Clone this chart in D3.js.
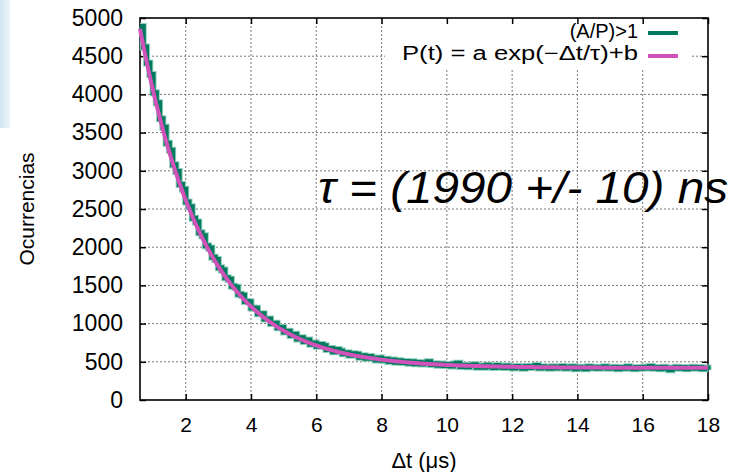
<!DOCTYPE html>
<html>
<head>
<meta charset="utf-8">
<script src="https://cdn.jsdelivr.net/npm/d3@7"></script>
<style>
  body { margin: 0; background: #fff; }
  svg text { font-family: "Liberation Sans", Arimo, Arial, Helvetica, sans-serif; fill: #000; }
  .axis.x text { font-size: 21px; }
  .axis.y text { font-size: 23px; }
  .grid line { stroke: #777; stroke-dasharray: 2,2; stroke-width: 1; }
</style>
</head>
<body>
<div class="graph"></div>
<script>
// data ------------------
// histogram bins start at 0.6 us, 0.1 us wide
const binStart = 0.6
const binWidth = 0.1
const counts = [
    4890, 4620, 4410, 4260, 4020, 3890, 3680, 3570, 3360, 3270,
    3080, 2990, 2820, 2760, 2590, 2530, 2380, 2330, 2190, 2150,
    2020, 1990, 1870, 1840, 1730, 1700, 1600, 1580, 1490, 1475,
    1385, 1370, 1290, 1285, 1205, 1200, 1130, 1130, 1060, 1060,
    1000, 1005, 945, 950, 890, 900, 845, 860, 800, 815,
    765, 785, 730, 745, 705, 725, 710, 660, 675, 630,
    660, 640, 605, 620, 585, 605, 600, 560, 580, 545,
    570, 545, 525, 550, 520, 535, 505, 525, 495, 515,
    490, 505, 480, 500, 475, 490, 470, 485, 500, 465,
    475, 455, 470, 450, 465, 445, 470, 480, 440, 455,
    435, 450, 460, 430, 445, 430, 455, 440, 425, 450,
    435, 425, 445, 430, 420, 440, 430, 415, 440, 425,
    435, 450, 420, 435, 425, 415, 435, 420, 430, 440,
    415, 425, 435, 410, 430, 420, 410, 435, 420, 430,
    415, 425, 435, 415, 420, 430, 410, 425, 415, 435,
    420, 410, 425, 415, 430, 420, 440, 415, 425, 410,
    430, 415, 395, 420, 430, 415, 425, 410, 420, 430,
    415, 425, 410, 420, 395
]

// fit P(t) = a exp(-t/tau) + b
const fitA = 6000
const fitTau = 1.99
const fitB = 420

const xTicks = [2, 4, 6, 8, 10, 12, 14, 16, 18]
const yTicks = [0, 500, 1000, 1500, 2000, 2500, 3000, 3500, 4000, 4500, 5000]
const xDomain = [0.6, 18]
const yDomain = [0, 5000]

const legendLabels = ['(A/P)>1', 'P(t) = a exp(\u2212\u0394t/\u03c4)+b']
const tauLabel = '\u03c4 = (1990 +/- 10) ns'

// config ------------------
const w = 731
const h = 472
const margin = {left: 140, right: 23, top: 18, bottom: 72}
const colours = {data: '#007a5e', halo: '#8fd0bd', fit: '#d152b9'}

const rows = counts.map((c, i) => ({t: binStart + i * binWidth, n: c}))

const xScale = d3.scaleLinear()
    .domain(xDomain)
    .range([margin.left, w - margin.right])

const yScale = d3.scaleLinear()
    .domain(yDomain)
    .range([h - margin.bottom, margin.top])

const svg = d3.select('.graph')
    .append('svg')
    .attr('width', w)
    .attr('height', h)

// slide leftover on the left edge
const grad = svg.append('defs').append('linearGradient')
    .attr('id', 'edge')
grad.append('stop').attr('offset', '0%').attr('stop-color', '#cfe4ef')
grad.append('stop').attr('offset', '100%').attr('stop-color', '#eef6fa')
svg.append('rect')
    .attr('x', 0).attr('y', 0)
    .attr('width', 10).attr('height', 128)
    .attr('fill', 'url(#edge)')

// grid
const grid = svg.append('g').attr('class', 'grid')
grid.selectAll('line.gx')
    .data(xTicks.filter(d => d < xDomain[1]))
    .join('line')
    .attr('class', 'gx')
    .attr('x1', d => xScale(d)).attr('x2', d => xScale(d))
    .attr('y1', yScale(yDomain[0])).attr('y2', yScale(yDomain[1]))
grid.selectAll('line.gy')
    .data(yTicks.filter(d => d > yDomain[0] && d < yDomain[1]))
    .join('line')
    .attr('class', 'gy')
    .attr('x1', xScale(xDomain[0])).attr('x2', xScale(xDomain[1]))
    .attr('y1', d => yScale(d)).attr('y2', d => yScale(d))

// opaque key box hides the grid behind it
svg.append('rect')
    .attr('x', 385).attr('y', margin.top + 1)
    .attr('width', 305).attr('height', 50)
    .attr('fill', '#fff')

// axes, ticks inward on all sides
const xAxis = d3.axisBottom(xScale).tickValues(xTicks).tickFormat(d => d)
    .tickSizeInner(-6).tickSizeOuter(0).tickPadding(17)
const yAxis = d3.axisLeft(yScale).tickValues(yTicks).tickFormat(d => d)
    .tickSizeInner(-6).tickSizeOuter(0).tickPadding(17)

svg.append('g')
    .attr('class', 'axis x')
    .attr('transform', 'translate(0,' + (h - margin.bottom) + ')')
    .call(xAxis)
svg.append('g')
    .attr('class', 'axis y')
    .attr('transform', 'translate(' + margin.left + ',0)')
    .call(yAxis)
svg.append('g')
    .attr('class', 'axis')
    .attr('transform', 'translate(0,' + margin.top + ')')
    .call(d3.axisTop(xScale).tickValues(xTicks).tickSizeInner(-6).tickSizeOuter(0).tickFormat(''))
svg.append('g')
    .attr('class', 'axis')
    .attr('transform', 'translate(' + (w - margin.right) + ',0)')
    .call(d3.axisRight(yScale).tickValues(yTicks).tickSizeInner(-6).tickSizeOuter(0).tickFormat(''))

svg.selectAll('.axis')
    .attr('font-family', null)
    .attr('font-size', null)
svg.selectAll('.axis .domain').remove()
svg.selectAll('.axis .tick line').attr('stroke', '#000').attr('stroke-width', 1.5)

svg.append('rect')
    .attr('x', margin.left).attr('y', margin.top)
    .attr('width', w - margin.left - margin.right)
    .attr('height', h - margin.top - margin.bottom)
    .attr('fill', 'none')
    .attr('stroke', '#000')
    .attr('stroke-width', 1.6)

// data steps
const step = d3.line()
    .x(d => xScale(d.t))
    .y(d => yScale(d.n))
    .curve(d3.curveStepAfter)

svg.append('path')
    .attr('d', step(rows))
    .attr('fill', 'none')
    .attr('stroke', colours.halo)
    .attr('stroke-width', 7)
svg.append('path')
    .attr('d', step(rows))
    .attr('fill', 'none')
    .attr('stroke', colours.data)
    .attr('stroke-width', 5)

// fit curve
const fitPts = d3.range(xDomain[0], xDomain[1] + 0.001, 0.05)
    .map(t => ({t: t, n: fitA * Math.exp(-t / fitTau) + fitB}))
svg.append('path')
    .attr('d', d3.line().x(d => xScale(d.t)).y(d => yScale(d.n))(fitPts))
    .attr('fill', 'none')
    .attr('stroke', colours.fit)
    .attr('stroke-width', 4)

// key
const key = svg.append('g')
legendLabels.forEach((lab, i) => {
    const t = key.append('text')
        .attr('x', 638)
        .attr('y', 38 + i * 22)
        .attr('text-anchor', 'end')
        .attr('font-size', 20)
        .text(lab)
    // the fit formula is drawn wider in the original
    if (i == 1) t.attr('textLength', 236).attr('lengthAdjust', 'spacingAndGlyphs')
    key.append('line')
        .attr('x1', 648).attr('x2', 678)
        .attr('y1', 33 + i * 23).attr('y2', 33 + i * 23)
        .attr('stroke', i == 0 ? colours.data : colours.fit)
        .attr('stroke-width', 4)
})

// tau annotation
svg.append('text')
    .attr('x', 318)
    .attr('y', 203)
    .attr('font-size', 45)
    .attr('font-style', 'italic')
    .attr('textLength', 410)
    .attr('lengthAdjust', 'spacingAndGlyphs')
    .text(tauLabel)

// axis labels
svg.append('text')
    .attr('x', (margin.left + w - margin.right) / 2)
    .attr('y', 468)
    .attr('text-anchor', 'middle')
    .attr('font-size', 22)
    .text('\u0394t (\u03bcs)')

svg.append('text')
    .attr('transform', 'translate(34,' + 209 + ') rotate(-90)')
    .attr('text-anchor', 'middle')
    .attr('font-size', 21)
    .text('Ocurrencias')
</script>
</body>
</html>
